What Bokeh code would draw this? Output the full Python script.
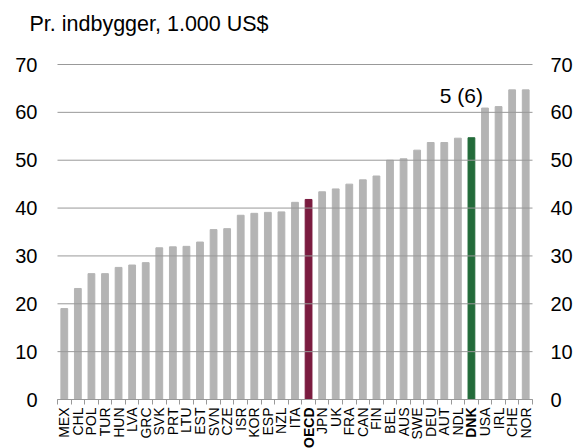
import math
from bokeh.plotting import figure
from bokeh.models import Range1d, LinearAxis, FixedTicker, Label, ColumnDataSource
from bokeh.core.properties import value
from bokeh.embed import file_html
from bokeh.resources import INLINE

# ---- data ----
countries = ["MEX", "CHL", "POL", "TUR", "HUN", "LVA", "GRC", "SVK", "PRT", "LTU",
             "EST", "SVN", "CZE", "ISR", "KOR", "ESP", "NZL", "ITA", "OECD", "JPN",
             "UK", "FRA", "CAN", "FIN", "BEL", "AUS", "SWE", "DEU", "AUT", "NDL",
             "DNK", "USA", "IRL", "CHE", "NOR"]
values = [19.0, 23.2, 26.3, 26.3, 27.6, 28.1, 28.6, 31.7, 31.9, 32.0,
          32.9, 35.5, 35.7, 38.5, 38.9, 39.1, 39.2, 41.2, 41.8, 43.4,
          44.0, 45.0, 45.9, 46.7, 50.0, 50.3, 52.1, 53.7, 53.7, 54.6,
          54.7, 60.9, 61.2, 64.7, 64.7]
y_ticks = [0, 10, 20, 30, 40, 50, 60, 70]
title_text = "Pr. indbygger, 1.000 US$"
note_text = "5 (6)"
oecd_name = "OECD"
dk_name = "DNK"

FONT = "Liberation Sans"
GREY = "#b4b4b4"
OECD_C = "#7a1b3f"
DNK_C = "#236b3a"
LINE_C = "#999999"

n = len(countries)
xs = [i + 0.5 for i in range(n)]
special = (oecd_name, dk_name)
colors = [OECD_C if c == oecd_name else DNK_C if c == dk_name else GREY for c in countries]
styles = ["bold" if c in special else "normal" for c in countries]
src = ColumnDataSource(dict(x=xs, top=values, color=colors, name=countries, style=styles))

# layout (pixels): the value area is 475 x 335 px; the margins around it are kept
# inside the frame so that the title and the category labels are not clipped
W, H = 576, 448
AREA_L, AREA_W = 57, 475
AREA_T, AREA_H = 64, 335
y_max = y_ticks[-1]
px_x = AREA_W / n
px_y = AREA_H / y_max
x_lo = -AREA_L / px_x
x_hi = n + (W - AREA_L - AREA_W) / px_x
y_hi = y_max + AREA_T / px_y
y_lo = -(H - AREA_T - AREA_H) / px_y

p = figure(frame_width=W, frame_height=H,
           x_range=Range1d(x_lo, x_hi), y_range=Range1d(y_lo, y_hi),
           x_axis_location=None, y_axis_location=None,
           output_backend="svg", toolbar_location=None,
           min_border_left=0, min_border_right=0, min_border_top=0, min_border_bottom=0)
p.outline_line_color = None
p.background_fill_color = "white"
p.border_fill_color = "white"
p.xgrid.visible = False
p.ygrid.visible = False

p.vbar(x="x", top="top", width=0.5, color="color", source=src)

# horizontal gridlines across the value area (drawn over the bars)
p.segment(x0=0, x1=n, y0=y_ticks, y1=y_ticks, line_color=LINE_C, line_width=1)

# y axes, pinned to the edges of the value area
def make_y(loc, standoff, side):
    ax = LinearAxis(fixed_location=loc)
    ax.ticker = FixedTicker(ticks=y_ticks)
    ax.axis_line_color = None
    ax.major_tick_line_color = None
    ax.minor_tick_line_color = None
    ax.major_label_standoff = standoff
    ax.major_label_text_font = FONT
    ax.major_label_text_font_size = "20px"
    ax.major_label_text_color = "black"
    p.add_layout(ax, side)

make_y(0, 14, "left")
make_y(n, 12, "right")

# x axis: line at 0 with ticks between the categories
xa = LinearAxis(fixed_location=0, bounds=(0, n))
xa.ticker = FixedTicker(ticks=[], minor_ticks=list(range(n + 1)))
xa.major_tick_out = 0
xa.major_tick_in = 0
xa.minor_tick_out = 5
xa.minor_tick_in = 0
xa.minor_tick_line_color = LINE_C
xa.axis_line_color = LINE_C
p.add_layout(xa, "below")

# category labels, reading bottom-to-top, hanging below the axis line
p.text(x="x", y=0, text="name", source=src, angle=math.pi / 2, y_offset=8,
       text_align="right", text_baseline="middle",
       text_font=value(FONT), text_font_size=value("14px"), text_font_style="style",
       text_color="black")

# title (top-left)
p.add_layout(Label(x=0, y=y_max, x_offset=-28, y_offset=41, text=title_text,
                   text_align="left", text_baseline="alphabetic",
                   text_font=FONT, text_font_size="21.5px", text_color="black"))

# note above DNK
dk_i = countries.index(dk_name)
p.add_layout(Label(x=xs[dk_i], y=values[dk_i], x_offset=-10, y_offset=42, text=note_text,
                   text_align="center", text_baseline="alphabetic",
                   text_font=FONT, text_font_size="21px", text_color="black"))

open("out.html", "w").write(file_html(p, INLINE))
